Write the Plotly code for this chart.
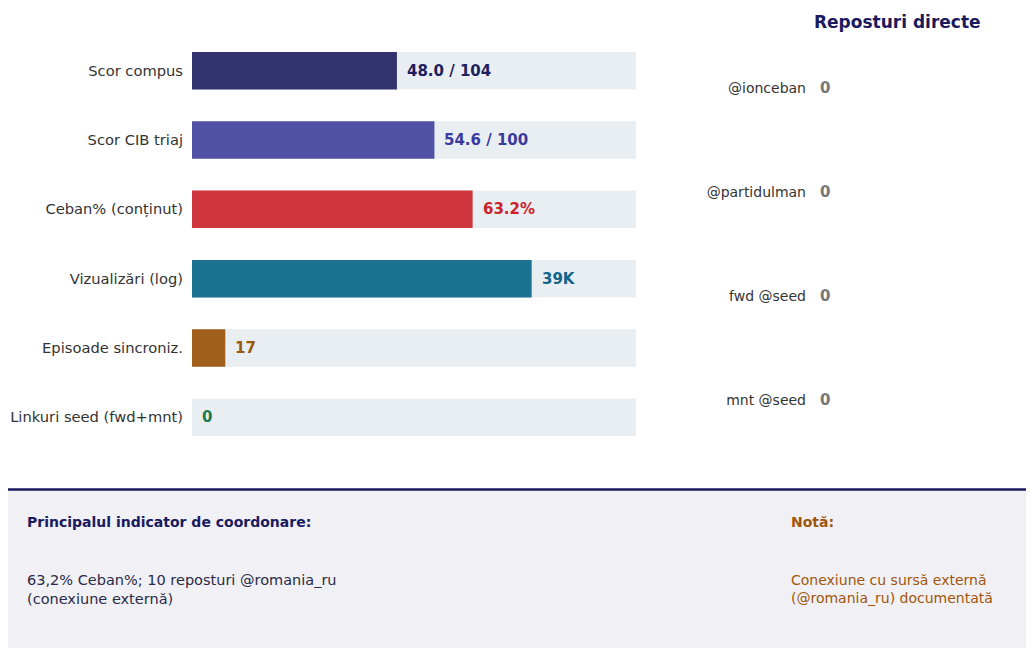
import plotly.graph_objects as go

# left panel: indicators
indicators = ["Scor compus", "Scor CIB triaj", "Ceban% (conținut)",
              "Vizualizări (log)", "Episoade sincroniz.", "Linkuri seed (fwd+mnt)"]
scaled_values = [48.0 / 104, 54.6 / 100, 0.632, 0.765, 0.075, 0.0]
value_labels = ["48.0 / 104", "54.6 / 100", "63.2%", "39K", "17", "0"]
bar_colors = ["#33336f", "#5050a4", "#ce353d", "#1c7391", "#a0601c", "#1e7a4a"]
text_colors = ["#1f1f5e", "#3a3a9e", "#cc2229", "#11648a", "#9a5a10", "#1e7a4a"]

# right panel: direct reposts
accounts = ["@ionceban", "@partidulman", "fwd @seed", "mnt @seed"]
reposts = [0, 0, 0, 0]

FONT = "DejaVu Sans"
W, H = 1034, 648
OFF = 8  # page body margin


def px_x(p):
    return (p - OFF) / W


def px_y(p):
    return 1 - (p - OFF) / H


fig = go.Figure()

# light background track for each indicator
fig.add_trace(
    go.Bar(
        x=[1] * len(indicators),
        y=indicators,
        orientation="h",
        marker=dict(color="#e9eef3", line_width=0),
        width=0.54,
        hoverinfo="skip",
        showlegend=False,
    )
)
fig.add_trace(
    go.Bar(
        x=scaled_values,
        y=indicators,
        orientation="h",
        marker=dict(color=bar_colors, line_width=0),
        width=0.54,
        customdata=value_labels,
        hovertemplate="%{y}: %{customdata}<extra></extra>",
        showlegend=False,
    )
)

# reposts (all zero)
fig.add_trace(
    go.Bar(
        x=reposts,
        y=accounts,
        orientation="h",
        marker=dict(color="rgba(0,0,0,0)", line_width=0),
        width=0.5,
        xaxis="x2",
        yaxis="y2",
        showlegend=False,
    )
)

annotations = []
for frac, cat, lbl, col in zip(scaled_values, indicators, value_labels, text_colors):
    annotations.append(dict(
        x=frac, y=cat, xref="x", yref="y", text=f"<b>{lbl}</b>",
        showarrow=False, xanchor="left", yanchor="middle", xshift=8,
        font=dict(family=FONT, size=15, color=col),
    ))
for v, acc in zip(reposts, accounts):
    annotations.append(dict(
        x=v, y=acc, xref="x2", yref="y2", text=f"<b>{v}</b>",
        showarrow=False, xanchor="left", yanchor="middle", xshift=6,
        font=dict(family=FONT, size=15, color="#777777"),
    ))

annotations += [
    dict(x=px_x(897), y=px_y(22), xref="paper", yref="paper", xanchor="center", yanchor="middle",
         text="<b>Reposturi directe</b>", showarrow=False,
         font=dict(family=FONT, size=17, color="#1a1a5e")),
    dict(x=px_x(25), y=px_y(522), xref="paper", yref="paper", xanchor="left", yanchor="middle",
         text="<b>Principalul indicator de coordonare:</b>", showarrow=False,
         font=dict(family=FONT, size=14, color="#1a1a5e")),
    dict(x=px_x(25), y=px_y(589), xref="paper", yref="paper", xanchor="left", yanchor="middle",
         align="left", text="63,2% Ceban%; 10 reposturi @romania_ru<br>(conexiune externă)",
         showarrow=False, font=dict(family=FONT, size=14.5, color="#2a2a48")),
    dict(x=px_x(789), y=px_y(522), xref="paper", yref="paper", xanchor="left", yanchor="middle",
         text="<b>Notă:</b>", showarrow=False,
         font=dict(family=FONT, size=14, color="#a0560a")),
    dict(x=px_x(789), y=px_y(589), xref="paper", yref="paper", xanchor="left", yanchor="middle",
         align="left", text="Conexiune cu sursă externă<br>(@romania_ru) documentată",
         showarrow=False, font=dict(family=FONT, size=14, color="#a0560a")),
]

fig.update_layout(
    width=W,
    height=H,
    margin=dict(l=0, r=0, t=0, b=0),
    paper_bgcolor="white",
    plot_bgcolor="white",
    barmode="overlay",
    font=dict(family=FONT, color="#333333"),
    xaxis=dict(domain=[px_x(192), px_x(636)], range=[0, 1], visible=False, fixedrange=True),
    yaxis=dict(domain=[px_y(452), px_y(36)], autorange="reversed", showgrid=False,
               zeroline=False, showline=False, ticks="", ticklabelstandoff=8,
               tickfont=dict(family=FONT, size=14.7, color="#333333"), automargin=False),
    xaxis2=dict(domain=[px_x(812), px_x(982)], range=[0, 1], visible=False, anchor="y2"),
    yaxis2=dict(domain=[px_y(452), px_y(36)], autorange="reversed", anchor="x2",
                showgrid=False, zeroline=False, showline=False, ticks="", ticklabelstandoff=5,
                tickfont=dict(family=FONT, size=14, color="#333333"), automargin=False),
    shapes=[
        dict(type="rect", xref="paper", yref="paper", x0=0, x1=1, y0=0, y1=px_y(489),
             fillcolor="#f0f0f5", line_width=0, layer="below"),
        dict(type="line", xref="paper", yref="paper", x0=0, x1=1,
             y0=px_y(489.5), y1=px_y(489.5), line=dict(color="#1a1a5e", width=2.5)),
    ],
    annotations=annotations,
)

fig.write_html("out.html")
